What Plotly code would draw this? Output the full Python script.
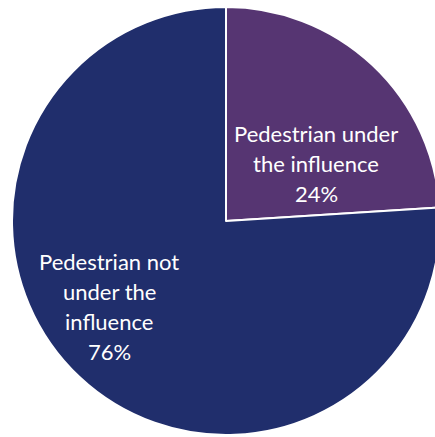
import plotly.graph_objects as go

# ---- data ----
categories = ["Pedestrian under the influence", "Pedestrian not under the influence"]
values = [24, 76]
label_lines = [["Pedestrian under", "the influence"],
               ["Pedestrian not", "under the", "influence"]]
colors = ["#563572", "#202e6c"]

# ---- layout geometry (pixels) ----
W, H = 445, 437
cx, cy, r = 226, 221, 214
label_pos = [(316, 133), (109, 261)]  # centre of first line
line_gap = 30
font_size = 22

total = sum(values)
fig = go.Figure(go.Pie(
    labels=categories, values=values, sort=False,
    direction="clockwise", rotation=0,
    marker=dict(colors=colors, line=dict(color="white", width=2)),
    textinfo="none", hoverinfo="label+percent", showlegend=False,
    domain=dict(x=[(cx - r) / W, (cx + r) / W],
                y=[1 - (cy + r) / H, 1 - (cy - r) / H]),
))

annotations = []
for lines, v, (px, py) in zip(label_lines, values, label_pos):
    all_lines = lines + [f"{v / total * 100:.0f}%"]
    for i, t in enumerate(all_lines):
        annotations.append(dict(
            text=t, x=px / W, y=1 - (py + i * line_gap) / H,
            xref="paper", yref="paper", xanchor="center", yanchor="middle",
            showarrow=False, font=dict(family="Lato", size=font_size, color="white"),
        ))

fig.update_layout(
    width=W, height=H, margin=dict(l=0, r=0, t=0, b=0),
    paper_bgcolor="white", plot_bgcolor="white",
    annotations=annotations,
)

fig.write_html(
    "out.html",
    config={"displayModeBar": False},
    post_script="document.body.style.margin='0';document.body.style.overflow='hidden';"
                "document.documentElement.style.overflow='hidden';",
)
